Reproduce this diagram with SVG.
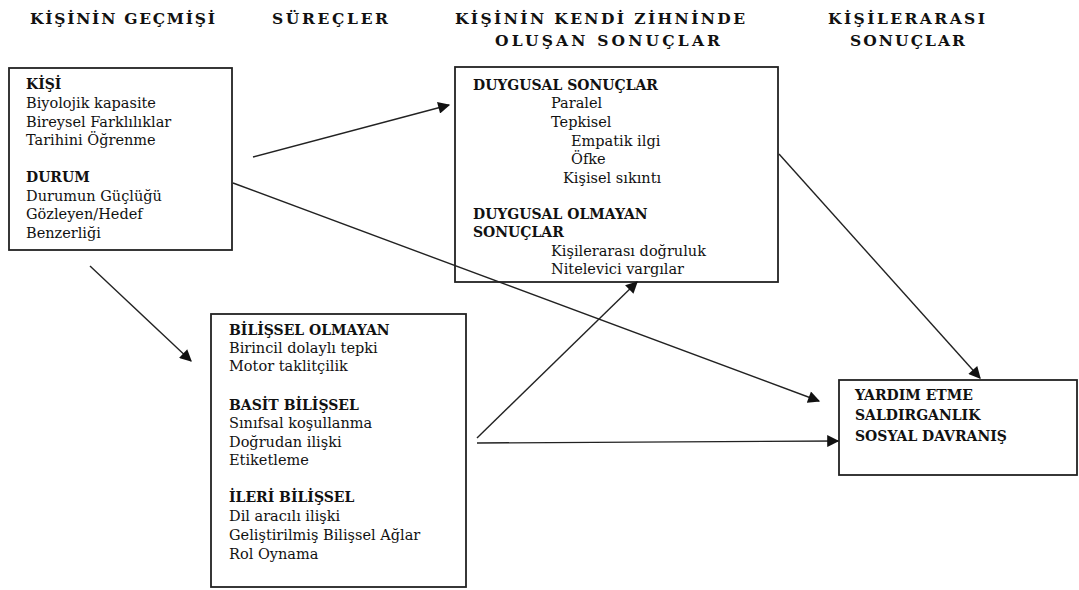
<svg xmlns="http://www.w3.org/2000/svg" width="1079" height="590" viewBox="0 0 1079 590">
<style>
.box{fill:#fff;stroke:#222;stroke-width:1.8}
text{font-family:'DejaVu Serif',serif;fill:#111}
.hdr{font-weight:bold;font-size:15.5px}
.b{font-weight:bold;font-size:14px}
.t{font-size:14.5px}
.con line{stroke:#222;stroke-width:1.4;fill:none}
</style>
<defs>
<marker id="ahb" viewBox="0 0 10 10" refX="9" refY="5" markerWidth="15" markerHeight="12" markerUnits="userSpaceOnUse" orient="auto">
<path d="M0,0 L10,5 L0,10 z" fill="#111"/>
</marker>
</defs>
<g id="headers">
<text class="hdr" x="30" y="24" textLength="185" lengthAdjust="spacing">KİŞİNİN GEÇMİŞİ</text>
<text class="hdr" x="272" y="24" textLength="116" lengthAdjust="spacing">SÜREÇLER</text>
<text class="hdr" x="455" y="24" textLength="290" lengthAdjust="spacing">KİŞİNİN KENDİ ZİHNİNDE</text>
<text class="hdr" x="495" y="46" textLength="225" lengthAdjust="spacing">OLUŞAN SONUÇLAR</text>
<text class="hdr" x="828" y="24" textLength="157" lengthAdjust="spacing">KİŞİLERARASI</text>
<text class="hdr" x="850" y="46" textLength="115" lengthAdjust="spacing">SONUÇLAR</text>
</g>
<g id="gecmis">
<rect class="box" x="9" y="68" width="223" height="182"/>
<text class="b" x="26" y="89">KİŞİ</text>
<text class="t" x="26" y="108">Biyolojik kapasite</text>
<text class="t" x="26" y="127">Bireysel Farklılıklar</text>
<text class="t" x="26" y="145">Tarihini Öğrenme</text>
<text class="b" x="26" y="182">DURUM</text>
<text class="t" x="26" y="201">Durumun Güçlüğü</text>
<text class="t" x="26" y="219">Gözleyen/Hedef</text>
<text class="t" x="26" y="238">Benzerliği</text>
</g>
<g id="zihin">
<rect class="box" x="455" y="67" width="323" height="215"/>
<text class="b" x="473" y="90">DUYGUSAL SONUÇLAR</text>
<text class="t" x="551" y="108">Paralel</text>
<text class="t" x="551" y="127">Tepkisel</text>
<text class="t" x="571" y="146">Empatik ilgi</text>
<text class="t" x="571" y="164">Öfke</text>
<text class="t" x="563" y="183">Kişisel sıkıntı</text>
<text class="b" x="473" y="219">DUYGUSAL OLMAYAN</text>
<text class="b" x="473" y="237">SONUÇLAR</text>
<text class="t" x="551" y="256">Kişilerarası doğruluk</text>
<text class="t" x="551" y="274">Nitelevici vargılar</text>
</g>
<g id="surecler">
<rect class="box" x="211" y="314" width="255" height="273"/>
<text class="b" x="229" y="335">BİLİŞSEL OLMAYAN</text>
<text class="t" x="229" y="353">Birincil dolaylı tepki</text>
<text class="t" x="229" y="371">Motor taklitçilik</text>
<text class="b" x="229" y="410">BASİT BİLİŞSEL</text>
<text class="t" x="229" y="428">Sınıfsal koşullanma</text>
<text class="t" x="229" y="447">Doğrudan ilişki</text>
<text class="t" x="229" y="465">Etiketleme</text>
<text class="b" x="229" y="502">İLERİ BİLİŞSEL</text>
<text class="t" x="229" y="521">Dil aracılı ilişki</text>
<text class="t" x="229" y="540">Geliştirilmiş Bilişsel Ağlar</text>
<text class="t" x="229" y="559">Rol Oynama</text>
</g>
<g id="kisilerarasi">
<rect class="box" x="839" y="380" width="238" height="95"/>
<text class="b" x="855" y="400">YARDIM ETME</text>
<text class="b" x="855" y="420">SALDIRGANLIK</text>
<text class="b" x="855" y="441">SOSYAL DAVRANIŞ</text>
</g>
<g class="con" id="connectors">
<line x1="253" y1="157" x2="449" y2="105" marker-end="url(#ahb)"/>
<line x1="90" y1="266" x2="191" y2="361" marker-end="url(#ahb)"/>
<line x1="233" y1="183" x2="819" y2="401" marker-end="url(#ahb)"/>
<line x1="477" y1="438" x2="637" y2="282" marker-end="url(#ahb)"/>
<line x1="779" y1="154" x2="980" y2="378" marker-end="url(#ahb)"/>
<line x1="477" y1="443" x2="838" y2="441" marker-end="url(#ahb)"/>
</g>
</svg>
